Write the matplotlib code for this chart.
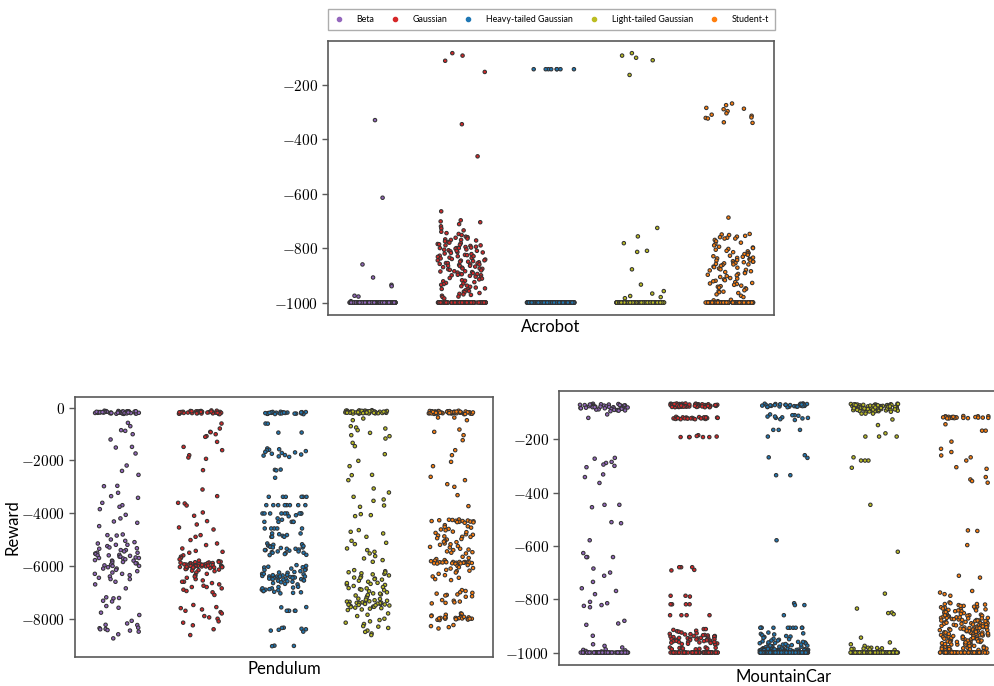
import numpy as np
import pandas as pd
import matplotlib
matplotlib.use('Agg')
import matplotlib.pyplot as plt
import seaborn as sns
from matplotlib.lines import Line2D
from matplotlib.ticker import FuncFormatter

plt.rcParams['mathtext.fontset'] = 'cm'
plt.rcParams['font.family'] = ['Lato', 'DejaVu Sans']

dists = ['Beta', 'Gaussian', 'Heavy-tailed Gaussian', 'Light-tailed Gaussian', 'Student-t']
colors = ['#9467bd', '#d62728', '#1f77b4', '#bcbd22', '#ff7f0e']

# ---------------- Acrobot ----------------
acro_beta = [-330, -615, -860, -908, -935, -940, -975, -978, -995] + [-1000] * 180

acro_gauss = [-84, -93, -112, -153, -345, -463,
              -665, -698, -702, -705, -712, -720, -728, -735, -740, -745, -748, -752,
              -758, -760, -762, -765, -768, -770, -772, -775, -778, -780, -782, -785,
              -786, -788, -790, -792, -795, -796, -798, -800, -800, -800, -802, -805,
              -806, -808, -810, -812, -815, -816, -818, -820, -822, -825, -826, -828,
              -830, -832, -835, -836, -838, -840, -842, -845, -846, -848, -850, -850,
              -852, -855, -856, -858, -860, -860, -862, -865, -866, -868, -870, -872,
              -875, -876, -878, -880, -882, -885, -886, -888, -890, -892, -895, -896,
              -898, -900, -900, -902, -905, -908, -910, -912, -915, -918, -920, -922,
              -925, -928, -930, -932, -935, -938, -940, -942, -945, -948, -950, -952,
              -955, -958, -960, -962, -965, -968, -970, -972, -975, -978, -980, -985,
              -845, -855, -865, -875, -885, -895, -770, -790, -810, -830] + [-1000] * 110

acro_heavy = [-143] * 8 + [-1000] * 200

acro_light = [-84, -93, -101, -110, -164, -726, -757, -782, -810, -814, -878,
              -934, -958, -967, -976, -980, -984] + [-1000] * 190

acro_stud = [-269, -275, -285, -288, -290, -297, -305, -310, -314, -320, -322, -324,
             -338, -340,
             -688, -748, -750, -752, -755, -758, -760, -762, -765, -765, -770, -775,
             -780, -785, -790, -795, -798, -800, -803, -806, -810, -812, -815, -818,
             -820, -822, -825, -828, -830, -832, -835, -836, -838, -840, -840, -842,
             -844, -845, -846, -848, -850, -850, -852, -854, -855, -856, -858, -860,
             -860, -862, -865, -868, -870, -872, -875, -878, -880, -882, -885, -888,
             -890, -892, -895, -898, -900, -903, -906, -910, -912, -915, -918, -920,
             -922, -925, -928, -930, -932, -935, -938, -940, -942, -945, -948, -950,
             -955, -958, -960, -962, -965, -970, -975, -980, -990, -992, -995] + [-1000] * 120

# ---------------- Pendulum ----------------
pend_beta = [-120, -130, -135, -140, -145, -150, -150, -155, -160, -160, -165, -170,
             -170, -175, -180, -180, -185, -190, -190, -195, -200, -200, -205, -210,
             -210, -215, -220, -220, -225, -230, -235, -240, -150, -160, -170, -180,
             -190, -200, -210, -220, -140, -175, -185, -195, -205,
             -580, -707, -858, -883, -1010, -1210, -1490, -1515, -1740, -2196, -2400,
             -2550, -2966, -2980, -3230, -3357, -3420, -3610, -3700, -3760, -3850,
             -4064, -4200, -4316, -4366, -4493, -4808, -4834,
             -4850, -5000, -5050, -5100, -5150, -5200, -5200, -5250, -5300, -5330,
             -5350, -5400, -5400, -5450, -5500, -5500, -5530, -5550, -5580, -5600,
             -5600, -5620, -5650, -5650, -5680, -5700, -5700, -5720, -5750, -5780,
             -5800, -5800, -5820, -5850, -5880, -5900, -5900, -5950, -5980, -6000,
             -6000, -6050, -6100, -6100, -6150, -6200, -6250, -6300, -6300, -6350,
             -6400, -6450, -6500, -6500, -6600, -6700, -6850,
             -7190, -7215, -7230, -7320, -7345, -7520, -7585, -7770, -7860, -8080,
             -8180, -8230, -8240, -8340, -8360, -8390, -8400, -8430, -8450, -8490,
             -8590, -8745]

pend_gauss = [-110, -120, -130, -140, -145, -150, -155, -160, -165, -170, -175, -180,
              -185, -190, -195, -200, -205, -210, -215, -220, -225, -230, -240, -250,
              -130, -150, -170, -190, -210, -230, -140, -160, -180, -200, -220, -165,
              -606, -795, -921, -934, -1010, -1085, -1110, -1300, -1490, -1615, -1805,
              -1893, -1943, -2372, -3105, -3357, -3610, -3635, -3710, -3975, -4100,
              -4303, -4430, -4543, -4620, -4834, -4897, -5020, -5150, -5210, -5340,
              -5430, -5465, -5500, -5600, -5650, -5700, -5750,
              -5800, -5820, -5840, -5850, -5860, -5870, -5880, -5890, -5900, -5900,
              -5910, -5920, -5930, -5940, -5950, -5950, -5960, -5970, -5980, -5990,
              -6000, -6000, -6000, -6010, -6010, -6020, -6020, -6030, -6040, -6050,
              -6050, -6060, -6070, -6080, -6090, -6100, -6100, -6120, -6140, -6160,
              -6180, -6200, -5960, -5990, -6000, -6030, -5940, -6060,
              -6250, -6300, -6350, -6400, -6450, -6500, -6550, -6600, -6650, -6700,
              -6750, -6800, -6850, -6900, -6950, -7000, -7100, -6400, -6600, -6800,
              -7480, -7560, -7600, -7650, -7700, -7750, -7800, -7900, -7950, -8000,
              -8100, -8150, -8250, -8400, -8620]

pend_heavy = [-160, -170, -180, -190, -200, -210, -220, -230, -240, -250, -175, -195,
              -215, -235, -165, -185, -205, -225, -245, -180, -200, -220, -190, -210,
              -230,
              -606, -610, -946, -950,
              -1550, -1580, -1600, -1620, -1650, -1680, -1700, -1720, -1750, -1780,
              -1800, -1820, -1850, -1870, -2350, -2360, -2380, -2660,
              -3382, -3382, -3382, -3382, -3382, -3382,
              -3698, -3698, -3698, -3698, -3698, -3698, -3698, -3698,
              -4013, -4013, -4013, -4013, -4013, -4013, -4013, -4013, -4013,
              -4080, -4120, -4200, -4250,
              -4330, -4330, -4330, -4330, -4330,
              -4581, -4581, -4581, -4581, -4581,
              -4770, -4770, -4800, -4830, -4860, -4897, -4897, -4897,
              -5150, -5180, -5200, -5230, -5250, -5280, -5300, -5320, -5350, -5380,
              -5400, -5420, -5450, -5480, -5500, -5520, -5550, -5580, -5590, -5250,
              -5300, -5350, -5400, -5450, -5500,
              -5970, -6000, -6030, -6060, -6100, -6130, -6160, -6200, -6230, -6260,
              -6300, -6320, -6340, -6360, -6380, -6400, -6400, -6400, -6420, -6420,
              -6440, -6440, -6460, -6460, -6480, -6480, -6500, -6500, -6520, -6540,
              -6560, -6580, -6600, -6620, -6650, -6680, -6700, -6400, -6450, -6350,
              -6250, -6550, -6150, -6050, -6300,
              -6790, -6800, -6820, -6850, -6880, -6900, -6900, -6920, -6950, -6980,
              -7000, -7020, -7040, -6850, -6950,
              -7560, -7570, -7700, -7700, -7700, -7700, -7700,
              -8340, -8350, -8380, -8400, -8420, -8450, -8490,
              -9020, -9030, -9040]

pend_light = [-100, -110, -115, -120, -125, -130, -135, -140, -145, -150, -155, -160,
              -165, -170, -175, -180, -185, -190, -195, -200, -205, -210, -215, -220,
              -225, -230, -120, -140, -160, -180, -200, -220, -130, -150, -170, -190,
              -210, -145, -165, -185, -205, -125, -155, -175, -195, -215, -135, -160,
              -180, -200,
              -416, -480, -707, -757, -795, -858, -959, -1047, -1085, -1174, -1338,
              -1464, -1767, -2019, -2221, -2550, -2562, -2751, -3067, -3218, -3382,
              -3483, -3534, -3710, -3761, -4038, -4076, -4114, -4644, -4707, -4770,
              -4897, -5048, -5124, -5174, -5338, -5401, -5465, -5528, -5629, -5717,
              -5780, -5843,
              -6160, -6200, -6240, -6280, -6320, -6360, -6400, -6440, -6480, -6520,
              -6560, -6600, -6640, -6680, -6720, -6760, -6800, -6840, -6880, -6920,
              -6960, -7000, -7040, -7080, -7120, -7160, -7200, -7240, -7280, -7300,
              -7320, -7340, -7360, -7380, -7400, -7400, -7420, -7420, -7440, -7440,
              -7460, -7480, -7500, -7520, -7540, -7560, -7580, -7600, -7620, -7650,
              -7670, -6300, -6500, -6700, -6900, -7100, -7350, -7450, -7550, -6250,
              -6450, -6650, -6850, -7050, -7250, -7390, -7410, -7430, -7470, -7490,
              -7800, -7850, -7900, -8000, -8050, -8100, -8150, -8200, -8280, -8300,
              -8350, -8450, -8500, -8560, -8620]

pend_stud = [-120, -130, -140, -150, -155, -160, -165, -170, -175, -180, -185, -190,
             -195, -200, -205, -210, -215, -220, -225, -230, -235, -240, -250, -130,
             -150, -170, -190, -210, -230, -140, -160, -180, -200, -220, -145, -165,
             -185, -205, -225, -175, -195, -215, -135, -155, -245, -180, -200, -210,
             -379, -379, -480, -833, -921, -1047, -1237, -1615, -1805, -2057, -2221,
             -2625, -2751, -2903, -3004, -3319, -3735,
             -4240, -4250, -4260, -4270, -4280, -4290, -4300, -4300, -4310, -4320,
             -4330, -4340, -4350, -4366,
             -4455, -4500, -4550, -4600, -4650, -4700, -4750, -4800, -4850, -4897,
             -4520, -4620, -4720, -4820, -4880,
             -4900, -4950, -5000, -5050, -5100, -5150, -5200, -5250, -5300, -5350,
             -5400, -5450, -5500, -5528, -4980, -5080, -5180, -5280, -5380, -5480,
             -5654, -5700, -5740, -5780, -5800, -5820, -5840, -5850, -5850, -5860,
             -5860, -5870, -5870, -5880, -5880, -5890, -5900, -5900, -5910, -5920,
             -5850, -5860, -5870, -5880, -5906,
             -5969, -6000, -6050, -6100, -6150, -6200, -6250, -6300, -6350, -6400,
             -6450, -6500, -6537, -6080, -6180,
             -6916, -6950, -7000, -7020, -7050, -7080, -7100, -7120, -7150, -7168,
             -7294, -7320, -7350, -7380, -7400, -7420,
             -7800, -7820, -7850, -7880, -7900, -7920, -7940, -7950, -7960, -7970,
             -7980, -7990, -8000, -8000, -8010, -8020, -8030, -8040, -8050, -7950,
             -7970, -7990, -8000, -8020, -7930,
             -8240, -8280, -8320, -8370]

# ---------------- MountainCar ----------------
mc_beta = [-67, -68, -69, -70, -70, -71, -72, -72, -73, -74, -74, -75, -75, -76, -76,
           -77, -78, -78, -79, -80, -80, -81, -82, -82, -83, -84, -85, -85, -86, -87,
           -88, -89, -90, -91, -72, -76, -80, -84, -70, -78,
           -90, -92, -93, -95, -107, -120,
           -270, -273, -285, -289, -295, -300, -305, -332, -342, -364, -446, -446,
           -455, -511, -515,
           -579, -627, -642, -642, -642, -685, -700, -712, -735, -759, -769, -781,
           -810, -815, -822, -825, -830, -881, -891, -896, -937, -969, -975, -981,
           -988, -990, -992, -994, -996] + [-1000] * 55

mc_gauss = [-66, -67, -67, -68, -68, -69, -69, -70, -70, -70, -71, -71, -72, -72, -72,
            -73, -73, -74, -74, -74, -75, -75, -76, -76, -76, -77, -77, -78, -78, -78,
            -79, -79, -80, -80, -80, -68, -70, -72, -74, -76, -78, -66, -69, -71, -73,
            -75, -77, -79, -67, -70, -73, -76, -79, -68, -72, -75, -78, -70, -74, -77,
            -116, -117, -118, -118, -119, -119, -120, -120, -120, -121, -121, -122,
            -122, -122, -123, -123, -124, -124, -125, -125, -118, -120, -122, -119,
            -121,
            -185, -188, -190, -192, -192, -192, -192, -192,
            -680, -680, -680, -690, -692, -787, -787, -790, -819, -819, -819, -819,
            -860, -860, -860, -860,
            -912, -912, -915, -918, -920, -922, -925, -928, -930, -931, -932, -934,
            -935, -936, -938, -938, -940, -940, -942, -943, -944, -945, -946, -947,
            -948, -949, -950, -951, -952, -953, -954, -955, -956, -957, -958, -959,
            -960, -961, -962, -963, -964, -965, -966, -967, -968, -969, -940, -950,
            -960, -945,
            -981, -981, -982, -983, -984, -985, -985, -986, -987, -988] + [-1000] * 60

mc_heavy = [-66, -67, -68, -69, -70, -71, -72, -73, -74, -75, -76, -77, -78, -79, -80,
            -67, -69, -71, -73, -75, -77, -79, -68, -70, -72, -74, -76, -78, -70, -74,
            -107, -110, -112, -115, -118, -120, -122, -125, -128, -110, -115, -120,
            -165, -165, -165, -190, -260, -268, -270, -335, -335,
            -579, -815, -822, -822, -860,
            -907, -907, -907, -907, -907, -907, -907, -907, -907, -907,
            -925, -928, -930, -932, -935, -938, -940, -942, -945, -948, -950, -952,
            -955, -958, -960, -962, -964, -966, -968, -970, -972, -974, -976, -978,
            -980, -982, -984, -986, -987, -960, -965, -970, -975, -980, -955, -968,
            -972, -978, -962, -974,
            -985, -986, -987, -988, -989, -990, -990, -991, -991, -992, -992, -993,
            -993, -994, -994, -995, -995, -996, -996, -997, -985, -987, -989, -991,
            -993, -995, -997, -988, -990, -992, -994, -996, -986, -989, -992, -995,
            -990, -993, -991, -994] + [-1000] * 100

mc_light = [-67, -68, -69, -70, -71, -72, -73, -74, -75, -76, -77, -78, -79, -80, -81,
            -82, -83, -84, -85, -86, -87, -88, -89, -90, -91, -92, -93, -94, -95, -96,
            -97, -98, -68, -70, -72, -74, -76, -78, -80, -82, -84, -86, -88, -90, -92,
            -94, -96, -69, -71, -73, -75, -77, -79, -81, -83, -85, -87, -89, -91, -93,
            -70, -74, -78, -82, -86, -90, -72, -76, -80, -84, -88, -71, -75, -79, -83,
            -87, -73, -77, -81, -85,
            -104, -104, -104, -126, -147, -178, -190, -190, -190, -268, -280, -280,
            -280, -307, -446,
            -622, -779, -835, -850, -852, -856, -944, -962, -969, -975,
            -982, -982, -983, -984, -985, -986, -987, -988, -990, -992] + [-1000] * 120

mc_stud = [-113, -114, -114, -115, -115, -116, -116, -117, -117, -118, -118, -119,
           -119, -120, -120, -120, -121, -121, -122, -122, -116, -119,
           -144, -168, -168, -209, -236, -248, -261, -268, -280, -305, -311, -342,
           -351, -357, -363, -542, -544, -597, -712, -719, -769, -775, -781, -787,
           -812, -815, -818, -820, -822, -825, -828, -830, -832, -835, -838, -840,
           -842, -845, -848, -850, -852, -855, -858, -860, -862, -864, -866, -868,
           -870, -870, -872, -874, -876, -878, -880, -880, -882, -884, -886, -888,
           -890, -890, -892, -894, -896, -898, -900, -900, -902, -904, -906, -908,
           -910, -910, -912, -914, -916, -918, -920, -920, -922, -924, -926, -928,
           -930, -930, -932, -934, -936, -938, -940, -940, -942, -944, -946, -948,
           -950, -950, -952, -954, -956, -958, -960, -960, -962, -964, -966, -968,
           -970, -970, -972, -974, -976, -978, -980, -980, -982, -984, -986, -988,
           -865, -875, -885, -895, -905, -915, -925, -935, -945, -955, -965, -975,
           -985, -990, -870, -890, -910, -930, -950, -970, -860, -880, -900, -920,
           -940, -960, -975, -985, -845, -855, -895, -935, -825, -835, -905, -945,
           -965, -990, -915, -925, -955, -975, -980, -987, -992, -995,
           -818, -828, -838, -848, -858, -868, -878, -888, -898, -908, -918, -928,
           -938, -948, -958, -968, -978, -988, -842, -862, -882, -902, -922, -942,
           -962, -982, -872, -892, -912, -932] + [-1000] * 60

panels = {
    'Acrobot': [acro_beta, acro_gauss, acro_heavy, acro_light, acro_stud],
    'Pendulum': [pend_beta, pend_gauss, pend_heavy, pend_light, pend_stud],
    'MountainCar': [mc_beta, mc_gauss, mc_heavy, mc_light, mc_stud],
}

fig = plt.figure(figsize=(9.95, 6.86), dpi=100)
ax_top = fig.add_axes([0.3296, 0.5408, 0.4482, 0.3999])
ax_pend = fig.add_axes([0.0754, 0.0423, 0.4201, 0.3790])
ax_mc = fig.add_axes([0.5618, 0.0306, 0.4523, 0.3994])

np.random.seed(3)
fmt = FuncFormatter(lambda v, p: r'$%d$' % v)


def strip(ax, env, yticks, ylim=None):
    groups = panels[env]
    df = pd.DataFrame({'dist': np.repeat(dists, [len(g) for g in groups]),
                       'reward': np.concatenate(groups)})
    sns.stripplot(data=df, x='dist', y='reward', hue='dist', order=dists,
                  hue_order=dists, palette=colors, jitter=0.27, size=2.5,
                  linewidth=0.75, edgecolor='0.2', legend=False, ax=ax)
    ax.set_xlim(-0.5, 4.5)
    if ylim is not None:
        ax.set_ylim(*ylim)
    ax.set_yticks(yticks)
    ax.yaxis.set_major_formatter(fmt)
    ax.tick_params(axis='y', direction='out', length=4, width=1,
                   color='0.35', labelsize=11, pad=3)
    ax.tick_params(axis='x', length=0, labelbottom=False)
    ax.set_xlabel(env, fontsize=12, labelpad=3)
    ax.set_ylabel('')
    for sp in ax.spines.values():
        sp.set_color('0.35')
        sp.set_linewidth(1.2)


strip(ax_top, 'Acrobot', [-1000, -800, -600, -400, -200])
strip(ax_pend, 'Pendulum', [-8000, -6000, -4000, -2000, 0], ylim=(-9450, 400))
strip(ax_mc, 'MountainCar', [-1000, -800, -600, -400, -200])
ax_pend.set_ylabel('Reward', fontsize=12)
ax_pend.yaxis.set_label_coords(-0.13, 0.5)

handles = [Line2D([], [], marker='o', ls='', color=c, markersize=3) for c in colors]
fig.legend(handles, dists, loc='center', mode='expand',
           bbox_to_anchor=(0.3296, 0.9562, 0.4492, 0.031), ncol=5,
           fontsize=6.4, frameon=True, fancybox=False, edgecolor='0.6',
           handlelength=1.0, handletextpad=1.5, borderpad=0.7, borderaxespad=0)

fig.savefig('out.png', dpi=100)
